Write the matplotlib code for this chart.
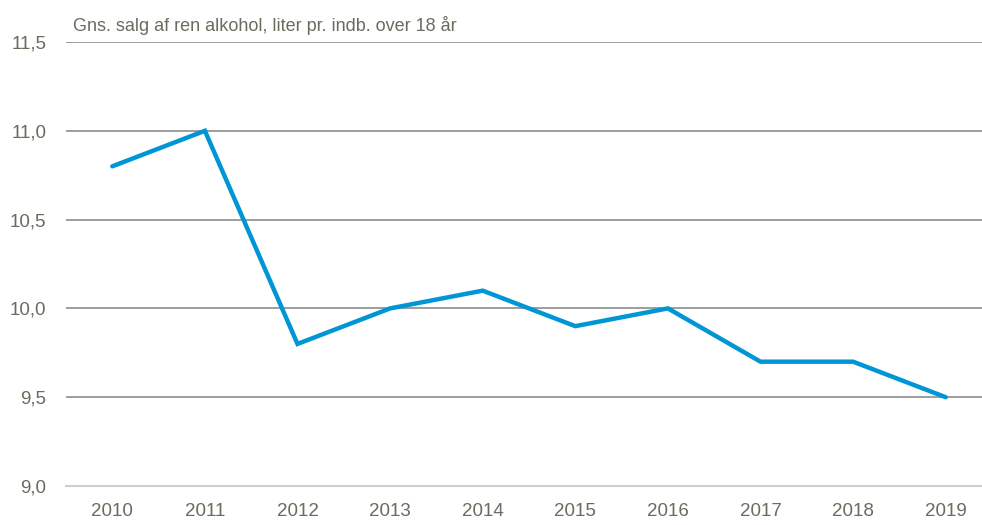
import matplotlib
matplotlib.use("Agg")
import matplotlib.pyplot as plt

years = ["2010", "2011", "2012", "2013", "2014", "2015", "2016", "2017", "2018", "2019"]
values = [10.8, 11.0, 9.8, 10.0, 10.1, 9.9, 10.0, 9.7, 9.7, 9.5]
yticks = [9.0, 9.5, 10.0, 10.5, 11.0, 11.5]
ytick_labels = ["9,0", "9,5", "10,0", "10,5", "11,0", "11,5"]
title = "Gns. salg af ren alkohol, liter pr. indb. over 18 år"

plt.rcParams['font.family'] = ["Liberation Sans", "DejaVu Sans"]

txt = "#6b6b5e"
fig = plt.figure(figsize=(9.82, 5.25), dpi=100)
ax = fig.add_axes([66/982, 39/525, 926/982, 444/525])
x = list(range(len(years)))
ax.plot(x, values, color="#0096D6", lw=3.2, solid_joinstyle="miter", solid_capstyle="round", zorder=3)
ax.set_xlim(-0.5, len(years) - 0.5)
ax.set_ylim(9.0, 11.5)
ax.set_yticks(yticks)
ax.set_yticklabels(ytick_labels)
ax.set_xticks(x)
ax.set_xticklabels(years)
for v in yticks[1:]:
    ax.axhline(v, color="#8c8c8c", lw=1.2, zorder=1)
for s in ["top", "right", "left"]:
    ax.spines[s].set_visible(False)
ax.spines["bottom"].set_color("#cfcec4")
ax.spines["bottom"].set_linewidth(1.5)
ax.tick_params(axis="both", length=0, labelsize=13.5, colors=txt)
ax.tick_params(axis="y", pad=14)
ax.tick_params(axis="x", pad=12.5)
fig.text(73/982, 1 - 31/525, title, fontsize=13, color=txt, ha="left", va="baseline")
fig.savefig("out.png", dpi=100)
